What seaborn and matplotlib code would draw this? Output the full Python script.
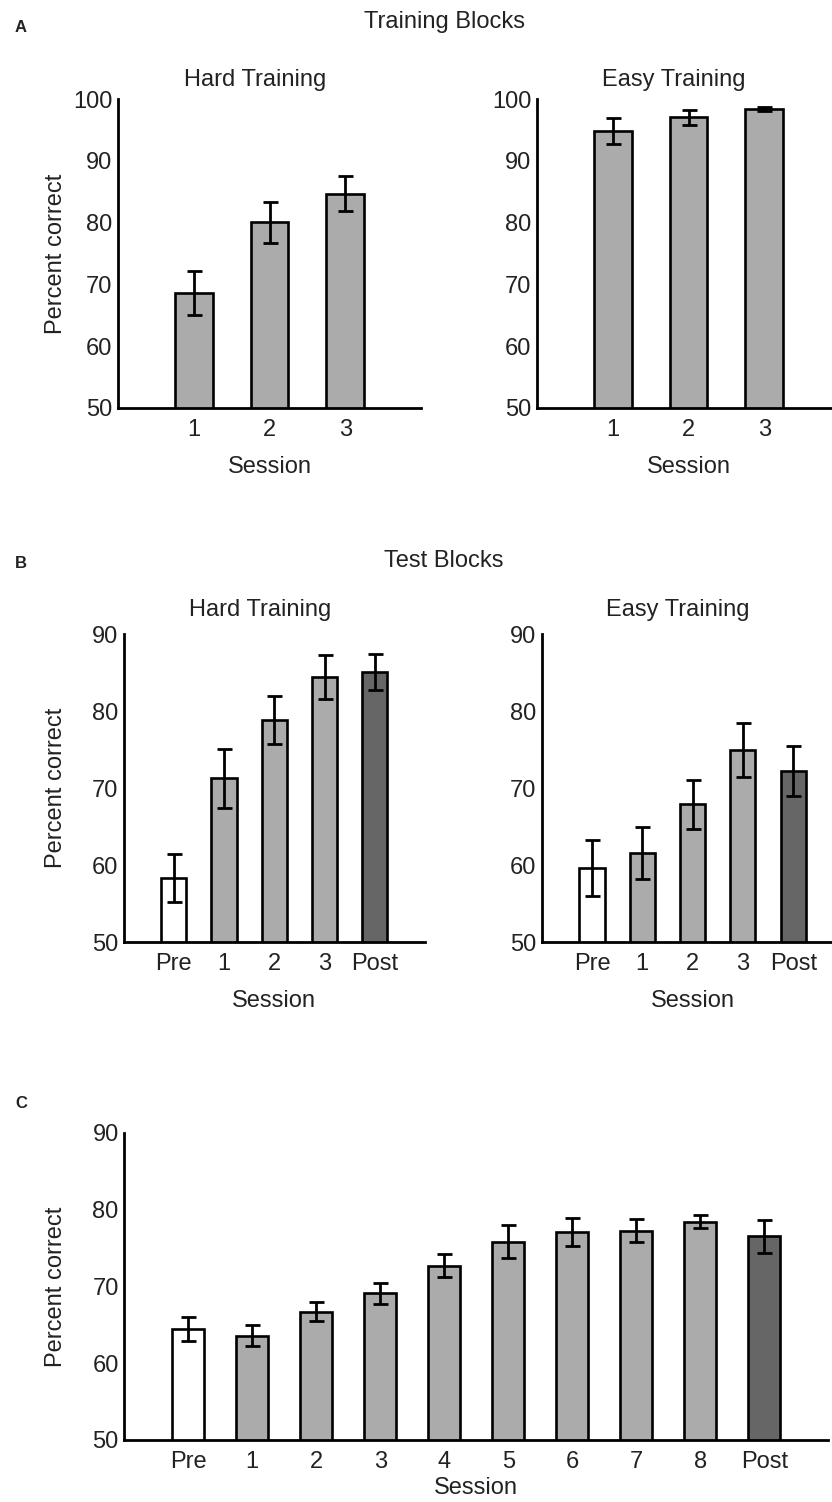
import numpy as np
import matplotlib
matplotlib.use("Agg")
import matplotlib.pyplot as plt
import matplotlib.transforms as mtransforms
import seaborn as sns

# ---------------- data ----------------
cats_A = ["1", "2", "3"]
A_hard = [68.6, 80.05, 84.7]
A_hard_err = [3.6, 3.35, 2.85]
A_easy = [94.9, 97.1, 98.4]
A_easy_err = [2.1, 1.2, 0.3]

cats_B = ["Pre", "1", "2", "3", "Post"]
B_hard = [58.35, 71.26, 78.87, 84.4, 85.03]
B_hard_err = [3.1, 3.85, 3.1, 2.85, 2.33]
B_easy = [59.57, 61.52, 67.88, 74.94, 72.2]
B_easy_err = [3.64, 3.4, 3.2, 3.54, 3.25]

cats_C = ["Pre", "1", "2", "3", "4", "5", "6", "7", "8", "Post"]
C_vals = [64.45, 63.58, 66.7, 69.1, 72.66, 75.82, 77.12, 77.21, 78.43, 76.5]
C_err = [1.56, 1.4, 1.2, 1.4, 1.5, 2.13, 1.82, 1.5, 0.8, 2.15]

yticks_A = [50, 60, 70, 80, 90, 100]
yticks_BC = [50, 60, 70, 80, 90]

# ---------------- style ----------------
sns.set_theme(style="white")
plt.rcParams["font.family"] = ["Liberation Sans", "DejaVu Sans"]
plt.rcParams["font.size"] = 17
TXT = "#222222"
LIGHT = "#ABABAB"
DARK = "#666666"
WHITE = "#FFFFFF"

W, H = 832, 1502
fig = plt.figure(figsize=(W / 100, H / 100), dpi=100)


def px_axes(x0, y0, x1, y1):
    return fig.add_axes([x0 / W, 1 - y1 / H, (x1 - x0) / W, (y1 - y0) / H])


def colors_for(cats):
    out = []
    for c in cats:
        if c == "Pre":
            out.append(WHITE)
        elif c == "Post":
            out.append(DARK)
        else:
            out.append(LIGHT)
    return out


def panel(ax, cats, vals, errs, yticks, title=None, ylabel=True,
          end_tick=False, title_pad=9.5, xlabel_pad=11):
    n = len(cats)
    sns.barplot(x=cats, y=vals, hue=cats, order=cats, hue_order=cats,
                palette=colors_for(cats), dodge=False, width=0.5,
                edgecolor="black", linewidth=1.9, errorbar=None,
                legend=False, saturation=1, ax=ax)
    ax.errorbar(np.arange(n), vals, yerr=errs, fmt="none", ecolor="black",
                elinewidth=2.0, capsize=5.4, capthick=2.0, zorder=4)
    ax.set_xlim(-1, n)
    ax.set_ylim(yticks[0], yticks[-1])
    ax.set_yticks(yticks)
    ax.set_yticklabels([str(t) for t in yticks])
    for s in ["top", "right"]:
        ax.spines[s].set_visible(False)
    for s in ["left", "bottom"]:
        ax.spines[s].set_color("black")
        ax.spines[s].set_linewidth(2.0)
    ax.tick_params(axis="y", direction="in", length=5, width=2.0,
                   color="black", pad=4, labelcolor=TXT, labelsize=17)
    ax.tick_params(axis="x", direction="in", length=0, pad=8,
                   labelcolor=TXT, labelsize=17)
    if end_tick:
        ax.set_xticks([n], minor=True)
        ax.tick_params(axis="x", which="minor", direction="in",
                       length=5, width=2.0, color="black")
    ax.set_xlabel("Session", color=TXT, fontsize=17, labelpad=xlabel_pad)
    if ylabel:
        ax.set_ylabel("Percent correct", color=TXT, fontsize=17)
        tr = mtransforms.blended_transform_factory(fig.transFigure, ax.transAxes)
        ax.yaxis.set_label_coords(67 / W, 0.5, transform=tr)
    else:
        ax.set_ylabel("")
    if title:
        ax.set_title(title, color=TXT, fontsize=17, pad=title_pad, x=0.452)
    ax.set_facecolor("white")


# Panel A
axA1 = px_axes(118, 99.3, 421, 407.7)
axA2 = px_axes(537, 99.3, 840, 407.7)
panel(axA1, cats_A, A_hard, A_hard_err, yticks_A, "Hard Training", True, end_tick=True)
panel(axA2, cats_A, A_easy, A_easy_err, yticks_A, "Easy Training", False)

# Panel B
axB1 = px_axes(123.5, 634, 425, 942)
axB2 = px_axes(541.7, 634, 843.5, 942)
panel(axB1, cats_B, B_hard, B_hard_err, yticks_BC, "Hard Training", True, title_pad=13)
panel(axB2, cats_B, B_easy, B_easy_err, yticks_BC, "Easy Training", False, title_pad=13)

# Panel C
axC = px_axes(124.3, 1132.7, 828.3, 1440)
panel(axC, cats_C, C_vals, C_err, yticks_BC, None, True, xlabel_pad=3)

# figure-level labels
def ftext(x, y, s, **kw):
    fig.text(x / W, 1 - y / H, s, color=TXT, va="center", **kw)

ftext(21, 27, "A", ha="center", fontsize=12, fontweight="bold")
ftext(444, 22, "Training Blocks", ha="center", fontsize=17)
ftext(21, 564, "B", ha="center", fontsize=12, fontweight="bold")
ftext(444, 561, "Test Blocks", ha="center", fontsize=17)
ftext(21, 1104, "C", ha="center", fontsize=12, fontweight="bold")

fig.savefig("out.png", dpi=100, facecolor="white")
